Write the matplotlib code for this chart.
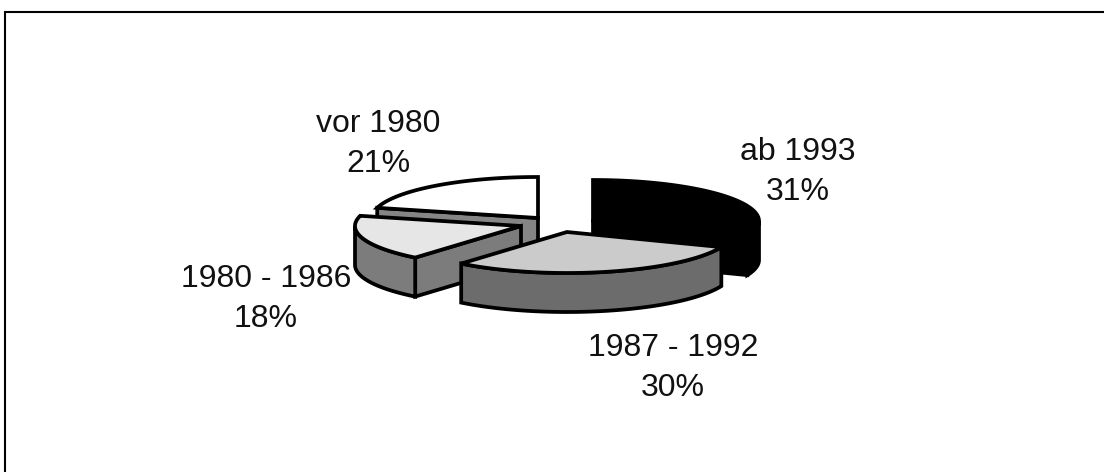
import numpy as np
import matplotlib
matplotlib.use('Agg')
import matplotlib.pyplot as plt

plt.rcParams['font.family'] = ['Liberation Sans', 'DejaVu Sans']

# pie slices, clockwise from 12 o'clock
labels = ['ab 1993', '1987 - 1992', '1980 - 1986', 'vor 1980']
values = [31, 30, 18, 21]

# pixel centre of each exploded slice
centers = [(593, 221), (567, 232), (521, 226), (538, 218)]
top_colors = ['#000000', '#cbcbcb', '#e6e6e6', '#ffffff']
side_colors = ['#000000', '#6c6c6c', '#7c7c7c', '#858585']
label_pos = [(798, 172), (673, 368), (266, 299), (378, 144)]
draw_order = [3, 0, 2, 1]

RX = 166
RY = 41
DEPTH = 39
LW = 2.7


def rim(cx, cy, a0, a1):
    a = np.radians(np.linspace(a0, a1, 80))
    return cx + RX * np.sin(a), cy - RY * np.cos(a)


def poly(ax, xs, ys, color):
    ax.fill(xs, ys, facecolor=color, edgecolor='black', linewidth=LW, joinstyle='miter')


fig = plt.figure(figsize=(11.04, 4.72), dpi=100)
ax = fig.add_axes([0, 0, 1, 1])
ax.set_xlim(0, 1104)
ax.set_ylim(472, 0)
ax.axis('off')

# frame, open on the right and at the bottom
ax.plot([5, 5, 1104], [472, 12, 12], color='black', lw=1.5, solid_joinstyle='miter')

ends = np.cumsum(values) / np.sum(values) * 360
starts = ends - np.array(values) / np.sum(values) * 360

for i in draw_order:
    cx, cy = centers[i]
    a0, a1 = starts[i], ends[i]

    # radial faces that look towards the viewer
    if np.sin(np.radians(a0)) < -1e-6:
        x, y = rim(cx, cy, a0, a0)
        poly(ax, [cx, x[0], x[0], cx], [cy, y[0], y[0] + DEPTH, cy + DEPTH], side_colors[i])
    if np.sin(np.radians(a1)) > 1e-6:
        x, y = rim(cx, cy, a1, a1)
        poly(ax, [cx, x[0], x[0], cx], [cy, y[0], y[0] + DEPTH, cy + DEPTH], side_colors[i])

    # outer wall
    lo, hi = max(a0, 90), min(a1, 270)
    if lo < hi:
        x, y = rim(cx, cy, lo, hi)
        poly(ax, np.r_[x, x[::-1]], np.r_[y, y[::-1] + DEPTH], side_colors[i])

    # top
    x, y = rim(cx, cy, a0, a1)
    poly(ax, np.r_[cx, x], np.r_[cy, y], top_colors[i])

for lab, val, (lx, ly) in zip(labels, values, label_pos):
    ax.text(lx, ly, '%s\n%d%%' % (lab, val), ha='center', va='center',
            fontsize=23, linespacing=1.4, color='#111111')

fig.savefig('out.png', dpi=100)
